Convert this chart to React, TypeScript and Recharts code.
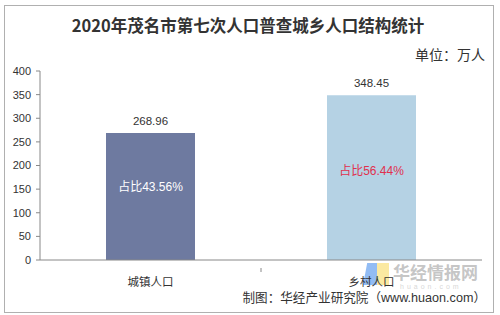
import React from "react";
import { BarChart, Bar, XAxis, YAxis, LabelList, Cell } from "recharts";

const categories = ["城镇人口", "乡村人口"];
const values = [268.96, 348.45];
const shares = ["占比43.56%", "占比56.44%"];
const yTicks = [0, 50, 100, 150, 200, 250, 300, 350, 400];

const barColors = ["#6e7aa0", "#b5d2e4"];
const shareColors = ["#ffffff", "#e0304e"];

const data = categories.map((c, i) => ({ name: c, value: values[i], share: shares[i] }));

const W = 500;
const H = 315;
const XH = 30;
const M = { top: 71, right: 18, bottom: 55 - XH, left: 0 };
const YW = 40;
const PLOT_W = W - M.left - M.right - YW;
const HALF_BAND = PLOT_W / categories.length / 2;

const FONT = "'Liberation Sans', Arial, 'Noto Sans CJK SC', sans-serif";

const XTick = (props: any) => {
  const { x, y, payload, index } = props;
  return (
    <g>
      {index === 0 && (
        <line x1={x + HALF_BAND} x2={x + HALF_BAND} y1={y} y2={y + 4} stroke="#888" />
      )}
      <text x={x} y={y + 13} textAnchor="middle" dominantBaseline="central" fontSize={11.5} fill="#333" fontFamily="'Noto Sans CJK SC', sans-serif">
        {payload.value}
      </text>
    </g>
  );
};

const ShareLabel = (props: any) => {
  const { x, y, width, height, value } = props;
  const idx = shares.indexOf(value);
  return (
    <text
      x={Number(x) + Number(width) / 2}
      y={Number(y) + Number(height) / 2 - (idx === 1 ? 7 : 9)}
      textAnchor="middle"
      dominantBaseline="central"
      fontSize={12}
      fill={shareColors[idx]}
      fontFamily={FONT}
    >
      {value}
    </text>
  );
};

export default function App() {
  return (
    <div style={{ position: "absolute", left: 0, top: 0, width: W, height: H, background: "#fff", fontFamily: FONT }}>
      <div style={{ position: "absolute", left: 4, top: 5, width: 488, height: 306, border: "1px solid #b0b0b0" }} />
      <div
        style={{
          position: "absolute",
          left: 0,
          width: W - 4,
          top: 13,
          textAlign: "center",
          fontSize: 16.5,
          fontWeight: "bold",
          color: "#333",
          fontFamily: "'Noto Sans CJK SC', sans-serif",
          lineHeight: "24px",
        }}
      >
        2020年茂名市第七次人口普查城乡人口结构统计
      </div>
      <div style={{ position: "absolute", right: 15, top: 44, fontSize: 14, color: "#333", fontFamily: "'Noto Sans CJK SC', sans-serif", lineHeight: "20px" }}>
        单位：万人
      </div>
      {/* watermark logo */}
      <div style={{ position: "absolute", left: 363, top: 263, width: 14, height: 22, background: "rgba(110,165,240,0.75)", clipPath: "polygon(30% 0, 100% 0, 100% 100%, 0 100%)" }} />
      <div style={{ position: "absolute", left: 377, top: 263, width: 12, height: 22, background: "rgba(250,225,130,0.75)" }} />
      <div style={{ position: "absolute", left: 0, top: 0 }}>
        <BarChart width={W} height={H} data={data} margin={M}>
          <YAxis
            width={YW}
            domain={[0, 400]}
            ticks={yTicks}
            interval={0}
            tickSize={4}
            tickMargin={5}
            axisLine={{ stroke: "#888" }}
            tickLine={{ stroke: "#888" }}
            tick={{ fontSize: 11, fill: "#333", fontFamily: FONT }}
          />
          <XAxis
            dataKey="name"
            height={XH}
            axisLine={{ stroke: "#888" }}
            tickLine={false}
            tick={<XTick />}
            interval={0}
          />
          <Bar dataKey="value" barSize={89} isAnimationActive={false}>
            {data.map((d, i) => (
              <Cell key={d.name} fill={barColors[i]} />
            ))}
            <LabelList dataKey="value" position="top" offset={8} fontSize={11.5} fill="#333" fontFamily={FONT} />
            <LabelList dataKey="share" content={<ShareLabel />} />
          </Bar>
        </BarChart>
      </div>
      <div style={{ position: "absolute", left: 393, top: 261, fontSize: 17, fontWeight: "bold", color: "rgba(190,190,190,0.9)", fontFamily: "'Noto Sans CJK SC', sans-serif", lineHeight: "22px", letterSpacing: 0 }}>
        华经情报网
      </div>
      <div style={{ position: "absolute", left: 400, top: 283, fontSize: 7, color: "rgba(205,205,205,0.8)", letterSpacing: 3, lineHeight: "8px" }}>
        huaon.com
      </div>
      <div style={{ position: "absolute", right: 14, top: 288, fontSize: 12.6, color: "#333", fontFamily: FONT, lineHeight: "20px", whiteSpace: "nowrap" }}>
        制图：华经产业研究院（www.huaon.com）
      </div>
    </div>
  );
}
